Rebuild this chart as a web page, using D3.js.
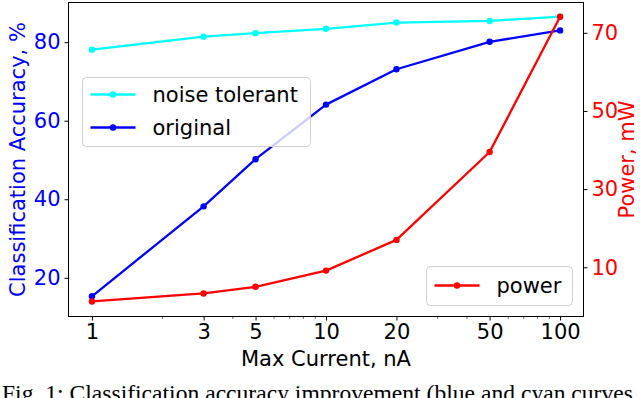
<!DOCTYPE html>
<html><head><meta charset="utf-8">
<script src="https://cdn.jsdelivr.net/npm/d3@7"></script>
<style>body{margin:0;background:#fff}svg{display:block}</style>
</head><body><svg id="c" width="640" height="398"></svg>
<script>
const currents = [1, 3, 5, 10, 20, 50, 100];
const noiseTolerant = [78.1, 81.4, 82.3, 83.4, 85.0, 85.4, 86.5];
const original = [15.3, 38.2, 50.2, 64.1, 73.1, 80.1, 83.0];
const power = [1.25, 3.3, 5.0, 9.15, 17.0, 39.5, 74.1];
const xTicks = [1, 3, 5, 10, 20, 50, 100];
const xMinorTicks = [2, 4, 6, 7, 8, 9, 30, 40, 60, 70, 80, 90];
const leftTicks = [20, 40, 60, 80];
const rightTicks = [10, 30, 50, 70];
const accuracySeries = ["noise tolerant", "original"];
const powerSeries = ["power"];

const FONT = "DejaVu Sans, sans-serif";
const L = 68.5, R = 583.5, T = 2.5, B = 316.5;
const svg = d3.select("#c");

const x = d3.scaleLog().domain([0.794, 125.9]).range([L, R]);
const yL = d3.scaleLinear().domain([10.15, 90.1]).range([B, T]);
const yR = d3.scaleLinear().domain([-2.6, 77.76]).range([B, T]);

function styleAxis(g, color) {
  g.select(".domain").remove();
  g.selectAll(".tick line").attr("stroke", "#000").attr("stroke-width", 1);
  g.selectAll(".tick text").attr("fill", color).style("font-family", FONT).style("font-size", "21px");
}

// x axis
const gx = svg.append("g").attr("transform", `translate(0,${B})`)
  .call(d3.axisBottom(x).tickValues(xTicks).tickFormat(d3.format("d")).tickSize(4).tickPadding(4));
styleAxis(gx, "#000");
svg.append("g").attr("transform", `translate(0,${B})`)
  .selectAll("line").data(xMinorTicks).join("line")
  .attr("x1", d => x(d)).attr("x2", d => x(d)).attr("y1", 0).attr("y2", 2.2)
  .attr("stroke", "#000").attr("stroke-width", 0.7);

const gyl = svg.append("g").attr("transform", `translate(${L},0)`)
  .call(d3.axisLeft(yL).tickValues(leftTicks).tickSize(4).tickPadding(4));
styleAxis(gyl, "#0000ff");
const gyr = svg.append("g").attr("transform", `translate(${R},0)`)
  .call(d3.axisRight(yR).tickValues(rightTicks).tickSize(4).tickPadding(4));
styleAxis(gyr, "#ff0000");

// axis labels
svg.append("text").attr("x", (L + R) / 2).attr("y", 366).attr("text-anchor", "middle")
  .style("font-family", FONT).style("font-size", "21px").attr("fill", "#000").text("Max Current, nA");
svg.append("text").attr("transform", `translate(25,${(T + B) / 2}) rotate(-90)`).attr("text-anchor", "middle")
  .style("font-family", FONT).style("font-size", "21px").attr("fill", "#0000ff").text("Classification Accuracy, %");
svg.append("text").attr("transform", `translate(634,${(T + B) / 2}) rotate(-90)`).attr("text-anchor", "middle")
  .style("font-family", FONT).style("font-size", "21px").attr("fill", "#ff0000").text("Power, mW");

// series
function drawSeries(vals, yS, color) {
  const pts = currents.map((c, i) => [x(c), yS(vals[i])]);
  svg.append("path").attr("d", d3.line()(pts)).attr("fill", "none")
    .attr("stroke", color).attr("stroke-width", 2.3).attr("stroke-linejoin", "round");
  svg.append("g").selectAll("circle").data(pts).join("circle")
    .attr("cx", d => d[0]).attr("cy", d => d[1]).attr("r", 3.2).attr("fill", color);
}
drawSeries(noiseTolerant, yL, "#00ffff");
drawSeries(original, yL, "#0000ff");

function legend(x0, y0, w, h, names, colors, rowYs) {
  const g = svg.append("g");
  g.append("rect").attr("x", x0).attr("y", y0).attr("width", w).attr("height", h).attr("rx", 4)
    .attr("fill", "#fff").attr("fill-opacity", 0.8).attr("stroke", "#d0d0d0").attr("stroke-width", 1);
  names.forEach((n, i) => {
    const yy = rowYs[i];
    g.append("line").attr("x1", x0 + 8).attr("x2", x0 + 53).attr("y1", yy).attr("y2", yy)
      .attr("stroke", colors[i]).attr("stroke-width", 2.3);
    g.append("circle").attr("cx", x0 + 30.5).attr("cy", yy).attr("r", 3.2).attr("fill", colors[i]);
    g.append("text").attr("x", x0 + 70).attr("y", yy).attr("dy", "0.35em")
      .style("font-family", FONT).style("font-size", "21px").attr("fill", "#000").text(n);
  });
}
legend(82.5, 77.5, 228, 69, accuracySeries, ["#00ffff", "#0000ff"], [94.5, 127.5]);

drawSeries(power, yR, "#ff0000");
legend(426.5, 266.5, 146, 39, powerSeries, ["#ff0000"], [285.5]);

// frame
svg.append("rect").attr("x", L).attr("y", T).attr("width", R - L).attr("height", B - T)
  .attr("fill", "none").attr("stroke", "#000").attr("stroke-width", 1);

// caption (cut off at the bottom edge, as in the source image)
svg.append("text").attr("x", 2).attr("y", 401)
  .style("font-family", "Liberation Serif, serif").style("font-size", "23.6px").attr("fill", "#000")
  .text("Fig. 1: Classification accuracy improvement (blue and cyan curves");
</script></body></html>
